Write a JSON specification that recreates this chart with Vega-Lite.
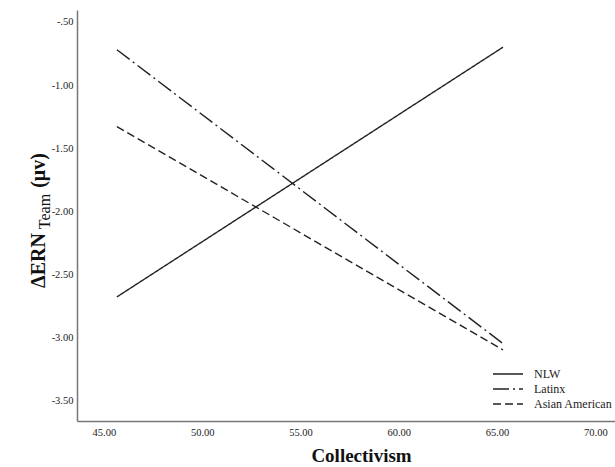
{
  "$schema": "https://vega.github.io/schema/vega-lite/v6.json",
  "width": 538,
  "height": 411,
  "autosize": "none",
  "padding": {"left": 77, "top": 10, "right": 0, "bottom": 46},
  "background": "white",
  "config": {"view": {"stroke": null}, "font": "Liberation Serif"},
  "data": {"values": [
    {"group": "NLW", "collectivism": 45.66, "dern": -2.68},
    {"group": "NLW", "collectivism": 65.3, "dern": -0.70},
    {"group": "Latinx", "collectivism": 45.66, "dern": -0.72},
    {"group": "Latinx", "collectivism": 65.3, "dern": -3.05},
    {"group": "Asian American", "collectivism": 45.66, "dern": -1.33},
    {"group": "Asian American", "collectivism": 65.3, "dern": -3.10}
  ]},
  "resolve": {"axis": {"x": "independent", "y": "independent"}},
  "layer": [
    {
      "mark": {"type": "line", "color": "#222222", "strokeWidth": 1.4},
      "encoding": {
        "x": {
          "field": "collectivism", "type": "quantitative",
          "scale": {"domain": [43.63, 71], "nice": false, "zero": false},
          "axis": {
            "title": "Collectivism", "titleFont": "Liberation Serif", "titleFontSize": 19, "titleFontWeight": "bold", "titleColor": "#111", "titlePadding": 9, "titleX": 284,
            "values": [45, 50, 55, 60, 65, 70], "format": ".2f",
            "labelFont": "Liberation Serif", "labelFontSize": 10.5, "labelColor": "#222", "labelPadding": 6,
            "ticks": false, "grid": false, "domainColor": "#777", "domainWidth": 1.5
          }
        },
        "y": {
          "field": "dern", "type": "quantitative",
          "scale": {"domain": [-3.664, -0.405], "nice": false, "zero": false},
          "axis": {
            "orient": "left",
            "title": "ΔERN", "titleFont": "Liberation Serif", "titleFontSize": 20, "titleFontWeight": "bold", "titleColor": "#111",
            "titleX": -39, "titleY": 250, "titleAngle": -90, "titleAlign": "center", "titleBaseline": "middle",
            "values": [-0.5, -1, -1.5, -2, -2.5, -3, -3.5],
            "labelExpr": "replace(replace(format(datum.value, '.2f'), '−', '-'), '-0.', '-.')",
            "labelFont": "Liberation Serif", "labelFontSize": 10.5, "labelColor": "#222", "labelPadding": 4,
            "ticks": false, "grid": false, "domainColor": "#777", "domainWidth": 1.5
          }
        },
        "strokeDash": {
          "field": "group", "type": "nominal",
          "scale": {"domain": ["NLW", "Latinx", "Asian American"], "range": [[1, 0], [16, 4, 2, 4], [8, 4]]},
          "legend": {
            "title": null, "orient": "none", "legendX": 424, "legendY": 357,
            "symbolType": "M-2.5,0H2.5", "symbolSize": 144, "symbolStrokeWidth": 1.5, "symbolStrokeColor": "#222",
            "labelFont": "Liberation Serif", "labelFontSize": 12, "labelColor": "#222", "labelOffset": 19,
            "rowPadding": 2
          }
        }
      }
    },
    {
      "mark": {"type": "line", "strokeOpacity": 0},
      "encoding": {
        "x": {"field": "collectivism", "type": "quantitative", "axis": null},
        "y": {
          "field": "dern", "type": "quantitative",
          "axis": {
            "orient": "left", "title": "Team", "titleFont": "Liberation Serif", "titleFontSize": 16, "titleFontWeight": "normal", "titleColor": "#111",
            "titleX": -33, "titleY": 201, "titleAngle": -90, "titleAlign": "center", "titleBaseline": "middle",
            "domain": false, "labels": false, "ticks": false, "grid": false
          }
        },
        "detail": {"field": "group"}
      }
    },
    {
      "mark": {"type": "line", "strokeOpacity": 0},
      "encoding": {
        "x": {"field": "collectivism", "type": "quantitative", "axis": null},
        "y": {
          "field": "dern", "type": "quantitative",
          "axis": {
            "orient": "left", "title": "(μv)", "titleFont": "Liberation Serif", "titleFontSize": 20, "titleFontWeight": "bold", "titleColor": "#111",
            "titleX": -39, "titleY": 160, "titleAngle": -90, "titleAlign": "center", "titleBaseline": "middle",
            "domain": false, "labels": false, "ticks": false, "grid": false
          }
        },
        "detail": {"field": "group"}
      }
    }
  ]
}
